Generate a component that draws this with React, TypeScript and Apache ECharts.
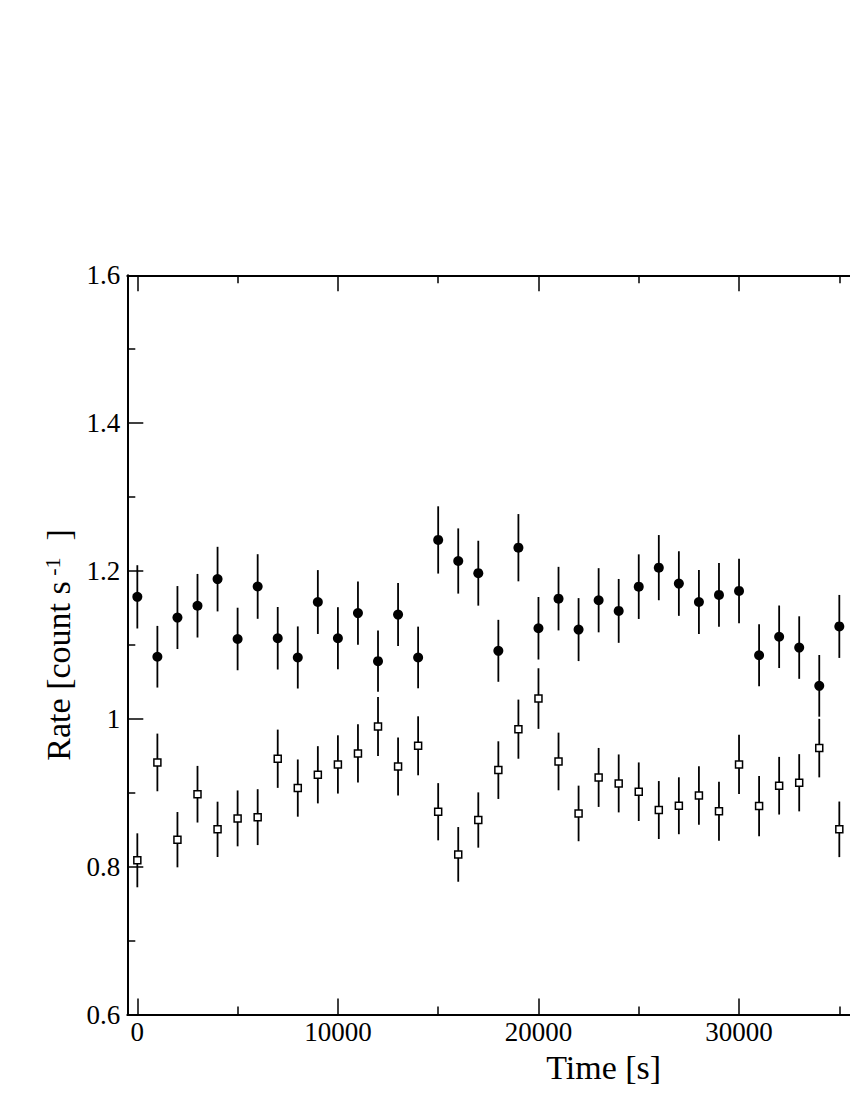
import React, { useEffect, useRef } from "react";
import * as echarts from "echarts";

const times = [0, 1000, 2000, 3000, 4000, 5000, 6000, 7000, 8000, 9000, 10000, 11000, 12000, 13000, 14000, 15000, 16000, 17000, 18000, 19000, 20000, 21000, 22000, 23000, 24000, 25000, 26000, 27000, 28000, 29000, 30000, 31000, 32000, 33000, 34000, 35000];

const rateA = [1.165, 1.084, 1.137, 1.153, 1.189, 1.108, 1.179, 1.109, 1.083, 1.158, 1.109, 1.143, 1.078, 1.141, 1.083, 1.242, 1.2135, 1.197, 1.092, 1.2315, 1.1225, 1.1626, 1.1207, 1.1604, 1.146, 1.1788, 1.2045, 1.183, 1.158, 1.1676, 1.173, 1.086, 1.111, 1.0964, 1.0446, 1.125];
const errA = [0.0428, 0.0417, 0.0426, 0.043, 0.0437, 0.0423, 0.0437, 0.0423, 0.042, 0.0432, 0.042, 0.0428, 0.0414, 0.0426, 0.0417, 0.0455, 0.0441, 0.0439, 0.0419, 0.0455, 0.0423, 0.043, 0.0426, 0.0434, 0.0432, 0.0437, 0.0441, 0.0437, 0.0432, 0.0432, 0.0437, 0.0419, 0.0423, 0.0423, 0.0417, 0.0426];

const rateB = [0.8086, 0.941, 0.8365, 0.898, 0.8505, 0.8653, 0.867, 0.946, 0.9063, 0.9243, 0.9383, 0.9531, 0.9896, 0.9356, 0.9635, 0.8743, 0.8166, 0.8631, 0.9306, 0.986, 1.0274, 0.9423, 0.872, 0.9207, 0.9126, 0.9014, 0.8766, 0.8824, 0.8964, 0.8748, 0.9383, 0.882, 0.9095, 0.9135, 0.9604, 0.8505];
const errB = [0.0365, 0.039, 0.0374, 0.0383, 0.0374, 0.0378, 0.0378, 0.0394, 0.0387, 0.0387, 0.0394, 0.0394, 0.04, 0.0392, 0.0399, 0.0387, 0.037, 0.0374, 0.039, 0.04, 0.041, 0.039, 0.0376, 0.0399, 0.0392, 0.0396, 0.0392, 0.0385, 0.0396, 0.0399, 0.04, 0.0408, 0.039, 0.0387, 0.0396, 0.0376];

const majorX = [0, 10000, 20000, 30000, 40000];
const labelX = [0, 10000, 20000, 30000];
const minorX = [5000, 15000, 25000, 35000, 45000];

const FONT = "'Liberation Serif', 'DejaVu Serif', serif";

export default function App() {
  const ref = useRef<HTMLDivElement>(null);

  useEffect(() => {
    if (!ref.current) return;
    const chart = echarts.init(ref.current, undefined, { renderer: "svg" });

    const xBase = {
      type: "value",
      min: -500,
      max: 47000,
      gridIndex: 0,
      splitLine: { show: false },
    };

    const errRender = (params: any, api: any) => {
      const x = api.value(0);
      const p1 = api.coord([x, api.value(1)]);
      const p2 = api.coord([x, api.value(2)]);
      return {
        type: "line",
        shape: { x1: p1[0], y1: p1[1], x2: p2[0], y2: p2[1] },
        style: { stroke: "#000", lineWidth: 1.8 },
      };
    };

    const option: any = {
      animation: false,
      backgroundColor: "#fff",
      grid: { left: 127.3, top: 275.3, right: 0, bottom: 85.5, containLabel: false },
      xAxis: [
        {
          ...xBase,
          position: "bottom",
          axisLine: { show: true, onZero: false, lineStyle: { color: "#000", width: 2 } },
          axisTick: { show: true, inside: true, length: 16, customValues: majorX, lineStyle: { color: "#000", width: 1.5 } },
          axisLabel: {
            show: true,
            customValues: labelX,
            color: "#000",
            fontFamily: FONT,
            fontSize: 27,
            margin: 4,
            formatter: (v: number) => String(v),
          },
          name: "Time [s]",
          nameLocation: "middle",
          nameGap: 22,
          nameTextStyle: { color: "#000", fontFamily: FONT, fontSize: 34, verticalAlign: "top" },
        },
        {
          ...xBase,
          position: "bottom",
          axisLine: { show: false, onZero: false },
          axisTick: { show: true, inside: true, length: 8, customValues: minorX, lineStyle: { color: "#000", width: 1.5 } },
          axisLabel: { show: false },
        },
        {
          ...xBase,
          position: "top",
          axisLine: { show: true, onZero: false, lineStyle: { color: "#000", width: 2 } },
          axisTick: { show: true, inside: true, length: 16, customValues: majorX, lineStyle: { color: "#000", width: 1.5 } },
          axisLabel: { show: false },
        },
        {
          ...xBase,
          position: "top",
          axisLine: { show: false, onZero: false },
          axisTick: { show: true, inside: true, length: 8, customValues: minorX, lineStyle: { color: "#000", width: 1.5 } },
          axisLabel: { show: false },
        },
      ],
      yAxis: [
        {
          type: "value",
          min: 0.6,
          max: 1.6,
          interval: 0.2,
          position: "left",
          splitLine: { show: false },
          axisLine: { show: true, onZero: false, lineStyle: { color: "#000", width: 2 } },
          axisTick: { show: true, inside: true, length: 16, lineStyle: { color: "#000", width: 1.5 } },
          minorTick: { show: true, splitNumber: 2, length: 8, lineStyle: { color: "#000", width: 1.5 } },
          axisLabel: { color: "#000", fontFamily: FONT, fontSize: 27, margin: 7 },
          name: "{a|Rate [count s}{s| -1}{a|  ]}",
          nameLocation: "middle",
          nameGap: 50,
          nameTextStyle: {
            color: "#000",
            fontFamily: FONT,
            fontSize: 34,
            rich: {
              a: { fontFamily: FONT, fontSize: 34, color: "#000", lineHeight: 34, padding: [16, 0, 0, 0], verticalAlign: "bottom" },
              s: { fontFamily: FONT, fontSize: 22, color: "#000", lineHeight: 22, verticalAlign: "top" },
            },
          },
        },
      ],
      series: [
        {
          type: "custom",
          xAxisIndex: 0,
          yAxisIndex: 0,
          renderItem: errRender,
          encode: { x: 0, y: [1, 2] },
          data: times.map((t, i) => [t, rateA[i] - errA[i], rateA[i] + errA[i]]),
          z: 2,
          silent: true,
        },
        {
          type: "custom",
          xAxisIndex: 0,
          yAxisIndex: 0,
          renderItem: errRender,
          encode: { x: 0, y: [1, 2] },
          data: times.map((t, i) => [t, rateB[i] - errB[i], rateB[i] + errB[i]]),
          z: 2,
          silent: true,
        },
        {
          type: "scatter",
          xAxisIndex: 0,
          yAxisIndex: 0,
          symbol: "circle",
          symbolSize: 10,
          itemStyle: { color: "#000", opacity: 1 },
          data: times.map((t, i) => [t, rateA[i]]),
          z: 5,
        },
        {
          type: "scatter",
          xAxisIndex: 0,
          yAxisIndex: 0,
          symbol: "rect",
          symbolSize: 7,
          itemStyle: { color: "#fff", borderColor: "#000", borderWidth: 1.5, opacity: 1 },
          data: times.map((t, i) => [t, rateB[i]]),
          z: 5,
        },
      ],
    };

    chart.setOption(option);
    return () => chart.dispose();
  }, []);

  return (
    <div style={{ position: "fixed", left: 0, top: 0, width: 850, height: 1100, overflow: "hidden", background: "#fff" }}>
      <div ref={ref} style={{ width: 1080, height: 1100 }} />
    </div>
  );
}
